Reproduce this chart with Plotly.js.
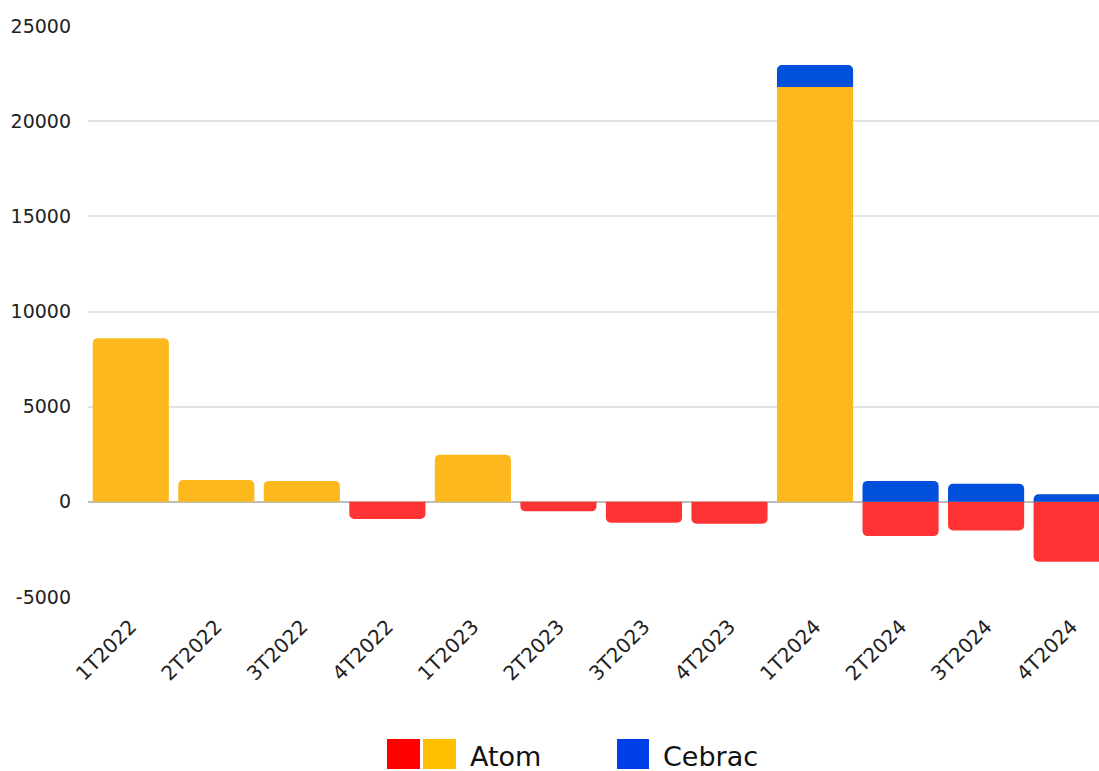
<!DOCTYPE html>
<html>
<head>
<meta charset="utf-8">
<script src="https://cdn.plot.ly/plotly-3.0.1.min.js"></script>
<style>
  html, body { margin: 0; padding: 0; background: #ffffff; overflow: hidden; }
  #chart { width: 1099px; height: 771px; }
</style>
</head>
<body>
<div id="chart"></div>
<script>
// ---- Data ----
const categories = ["1T2022","2T2022","3T2022","4T2022","1T2023","2T2023","3T2023","4T2023","1T2024","2T2024","3T2024","4T2024"];
const atomValues = [8600, 1150, 1100, -900, 2480, -500, -1100, -1150, 21800, -1800, -1500, -3150];
const cebracValues = [0, 0, 0, 0, 0, 0, 0, 0, 1150, 1100, 950, 400];
const yTickValues = [-5000, 0, 5000, 10000, 15000, 20000, 25000];
const yTickLabels = ["-5000", "0", "5000", "10000", "15000", "20000", "25000"];

// ---- Styles ----
const atomPositiveColor = "#FDB81E";
const atomNegativeColor = "#FF3333";
const cebracColor = "#0050DC";
const legendRed = "#FF0000";
const legendYellow = "#FFBF00";
const legendBlue = "#0040E6";

const W = 1099, H = 771;
const M = { l: 88, r: 0, t: 26, b: 174 };
const plotW = W - M.l - M.r, plotH = H - M.t - M.b;
const px2x = p => (p - M.l) / plotW;
const py2y = p => (H - M.b - p) / plotH;

const atomTrace = {
  type: "bar",
  name: "Atom",
  x: categories,
  y: atomValues,
  marker: { color: atomValues.map(v => v >= 0 ? atomPositiveColor : atomNegativeColor) },
  showlegend: false,
  hoverinfo: "x+y+name"
};
const cebracTrace = {
  type: "bar",
  name: "Cebrac",
  x: categories,
  y: cebracValues,
  marker: { color: cebracColor },
  showlegend: false,
  hoverinfo: "x+y+name"
};

const legendFont = { family: "DejaVu Sans, sans-serif", size: 27, color: "#111111" };

const shapes = [
  { type: "rect", xref: "paper", yref: "paper", x0: px2x(387), x1: px2x(420), y0: py2y(769), y1: py2y(739), fillcolor: legendRed, line: { width: 0 } },
  { type: "rect", xref: "paper", yref: "paper", x0: px2x(423), x1: px2x(456), y0: py2y(769), y1: py2y(739), fillcolor: legendYellow, line: { width: 0 } },
  { type: "rect", xref: "paper", yref: "paper", x0: px2x(617), x1: px2x(649), y0: py2y(769), y1: py2y(739), fillcolor: legendBlue, line: { width: 0 } }
];
const annotations = [
  { xref: "paper", yref: "paper", x: px2x(468), y: py2y(756), xanchor: "left", yanchor: "middle", text: "Atom", showarrow: false, font: legendFont },
  { xref: "paper", yref: "paper", x: px2x(661), y: py2y(756), xanchor: "left", yanchor: "middle", text: "Cebrac", showarrow: false, font: legendFont }
];

const layout = {
  width: W,
  height: H,
  margin: M,
  paper_bgcolor: "#ffffff",
  plot_bgcolor: "#ffffff",
  barmode: "relative",
  bargap: 0.11,
  barcornerradius: 5,
  showlegend: false,
  font: { family: "DejaVu Sans, sans-serif", size: 19, color: "#222222" },
  xaxis: {
    type: "category",
    range: [-0.5, 11.32],
    tickangle: -45,
    showgrid: false,
    zeroline: false,
    showline: false,
    ticks: "outside",
    ticklen: 9,
    tickcolor: "rgba(0,0,0,0)",
    tickfont: { family: "DejaVu Sans, sans-serif", size: 20, color: "#222222" }
  },
  yaxis: {
    range: [-5000, 25000],
    tickvals: yTickValues,
    ticktext: yTickLabels,
    showgrid: true,
    gridcolor: "#e3e3e3",
    gridwidth: 2,
    zeroline: true,
    zerolinecolor: "#bdbdbd",
    zerolinewidth: 2,
    showline: false,
    ticks: "",
    ticklabelstandoff: 16,
    tickfont: { family: "DejaVu Sans, sans-serif", size: 19, color: "#222222" }
  },
  shapes: shapes,
  annotations: annotations
};

Plotly.newPlot("chart", [atomTrace, cebracTrace], layout, { displayModeBar: false, staticPlot: true });
</script>
</body>
</html>
